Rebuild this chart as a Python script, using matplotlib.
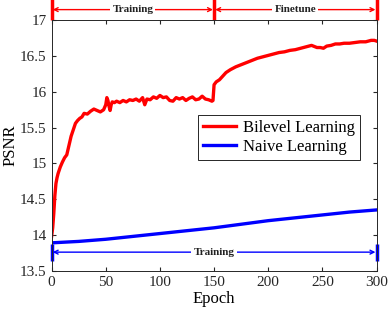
import matplotlib
matplotlib.use("Agg")
import matplotlib.pyplot as plt

plt.rcParams['font.family'] = ['Liberation Serif', 'DejaVu Serif']

red_epochs = [0, 1, 2, 3, 4, 5, 6, 8, 10, 12, 14, 16, 18, 20, 22, 24, 26, 28, 30, 33, 36, 39,
              42, 45, 48, 50, 51, 52, 53, 54, 55, 56, 58, 60, 63, 66, 69, 72, 75, 78, 81, 84,
              86, 88, 91, 94, 97, 100, 103, 106, 109, 112, 115, 118, 121, 124, 127, 130, 133,
              136, 139, 142, 145, 148, 149, 150, 152, 155, 158, 161, 165, 170, 175, 180, 185,
              190, 195, 200, 205, 210, 215, 220, 225, 230, 235, 240, 245, 248, 251, 254, 258,
              262, 266, 270, 275, 280, 285, 290, 295, 298, 300]
red_psnr = [13.98, 14.10, 14.30, 14.55, 14.72, 14.80, 14.86, 14.95, 15.02, 15.08, 15.12, 15.25,
            15.38, 15.47, 15.56, 15.60, 15.63, 15.65, 15.70, 15.69, 15.73, 15.76, 15.74, 15.72,
            15.75, 15.82, 15.92, 15.88, 15.80, 15.74, 15.82, 15.86, 15.85, 15.87, 15.85, 15.88,
            15.86, 15.89, 15.88, 15.90, 15.87, 15.92, 15.82, 15.90, 15.89, 15.93, 15.91, 15.95,
            15.92, 15.93, 15.88, 15.87, 15.92, 15.90, 15.92, 15.88, 15.91, 15.93, 15.89, 15.90,
            15.94, 15.90, 15.89, 15.87, 15.88, 16.10, 16.14, 16.17, 16.22, 16.27, 16.31, 16.35,
            16.38, 16.41, 16.44, 16.47, 16.49, 16.51, 16.53, 16.55, 16.56, 16.58, 16.59, 16.61,
            16.63, 16.65, 16.62, 16.62, 16.61, 16.64, 16.65, 16.67, 16.67, 16.68, 16.68, 16.69,
            16.70, 16.70, 16.72, 16.72, 16.71]

blue_epochs = [0, 25, 50, 75, 100, 125, 150, 175, 200, 225, 250, 275, 300]
blue_psnr = [13.89, 13.91, 13.94, 13.98, 14.02, 14.06, 14.10, 14.15, 14.20, 14.24, 14.28, 14.32, 14.35]

series_labels = ["Bilevel Learning", "Naive Learning"]
phase_labels = ["Training", "Finetune"]
x_ticks = [0, 50, 100, 150, 200, 250, 300]
y_ticks = [13.5, 14, 14.5, 15, 15.5, 16, 16.5, 17]

fig = plt.figure(figsize=(3.91, 3.13), dpi=100)
ax = fig.add_axes([0.132, 0.135, 0.831, 0.8])

ax.plot(red_epochs, red_psnr, color='#ff0000', lw=2.4, label=series_labels[0])
ax.plot(blue_epochs, blue_psnr, color='#0000ff', lw=2.4, label=series_labels[1])

ax.set_xlim(0, 300)
ax.set_ylim(13.5, 17)
ax.set_xticks(x_ticks)
ax.set_yticks(y_ticks)
ax.set_yticklabels([f"{v:g}" for v in y_ticks])
ax.tick_params(direction='in', top=True, right=True, labelsize=11, colors='#262626', length=3)
for s in ax.spines.values():
    s.set_color('#262626')
    s.set_linewidth(0.7)
ax.set_xlabel("Epoch", fontsize=12, labelpad=2)
ax.set_ylabel("PSNR", fontsize=12, labelpad=1)

# Top red phase annotations
top_y = 17.15
for xb in [0, 150, 300]:
    ax.plot([xb, xb], [17.0, 17.3], color='#ff0000', lw=2.5, clip_on=False, solid_capstyle='butt')
for (x0, x1), lab in zip([(0, 150), (150, 300)], phase_labels):
    ax.annotate('', xy=(x0 + 1, top_y), xytext=(x1 - 1, top_y), annotation_clip=False,
                arrowprops=dict(arrowstyle='<->', color='#ff0000', lw=1.0, mutation_scale=7,
                                shrinkA=0, shrinkB=0))
    ax.text((x0 + x1) / 2, top_y, lab, ha='center', va='center', fontsize=8,
            fontweight='bold', color='#222222',
            bbox=dict(facecolor='white', edgecolor='none', pad=1.5), clip_on=False)

# Bottom blue annotation
bot_y = 13.76
for xb in [0, 300]:
    ax.plot([xb, xb], [13.63, 13.88], color='#0000ff', lw=2.5, clip_on=False, solid_capstyle='butt')
ax.annotate('', xy=(1, bot_y), xytext=(299, bot_y), annotation_clip=False,
            arrowprops=dict(arrowstyle='<->', color='#0000ff', lw=1.0, mutation_scale=7,
                            shrinkA=0, shrinkB=0))
ax.text(150, bot_y, phase_labels[0], ha='center', va='center', fontsize=8,
        fontweight='bold', color='#222222',
        bbox=dict(facecolor='white', edgecolor='none', pad=1.5))

leg = ax.legend(loc='upper left', bbox_to_anchor=(0.45, 0.622), borderaxespad=0,
                fontsize=12, fancybox=False, framealpha=1, edgecolor='#262626',
                handlelength=2.0, handletextpad=0.4, borderpad=0.3, labelspacing=0.2)
leg.get_frame().set_linewidth(0.7)

fig.savefig("out.png", dpi=100)
